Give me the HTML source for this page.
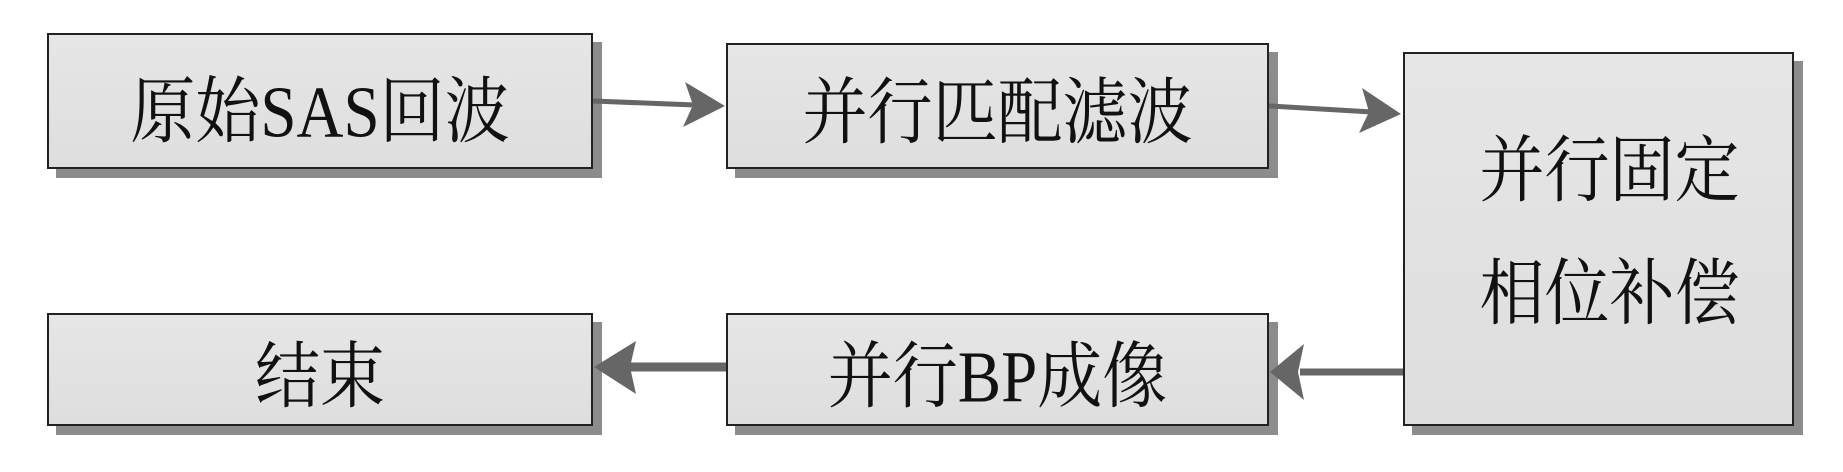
<!DOCTYPE html>
<html><head><meta charset="utf-8"><style>
body{margin:0;width:1843px;height:472px;background:#fff;position:relative;overflow:hidden;font-family:"Liberation Serif","Noto Serif CJK SC",serif;}
.b{position:absolute;box-sizing:border-box;border:2px solid #222;background:linear-gradient(#e6e6e6,#dedede);box-shadow:9px 9px 0 #8c8c8c;display:flex;align-items:center;justify-content:center;font-size:65px;color:#111;white-space:nowrap;}
.t{transform:scaleY(1.12);}
svg{position:absolute;left:0;top:0}
</style></head><body>
<div class="b" style="left:47px;top:33px;width:546px;height:136px"><div class="t" style="margin-top:8px">原始SAS回波</div></div>
<div class="b" style="left:726px;top:43px;width:543px;height:126px"><div class="t" style="margin-top:0px">并行匹配滤波</div></div>
<div class="b" style="left:1403px;top:52px;width:391px;height:374px;flex-direction:column;line-height:1;padding-left:22px;">
<div class="t" style="margin-top:-10px">并行固定</div><div class="t" style="margin-top:58px">相位补偿</div></div>
<div class="b" style="left:47px;top:313px;width:546px;height:113px"><div class="t">结束</div></div>
<div class="b" style="left:726px;top:313px;width:543px;height:113px"><div class="t">并行BP成像</div></div>
<svg width="1843" height="472">
<g stroke="#666" fill="#666">
<line x1="593" y1="101" x2="695" y2="105" stroke-width="5"/>
<line x1="1269" y1="106" x2="1372" y2="112" stroke-width="5"/>
<line x1="1403" y1="372" x2="1300" y2="372" stroke-width="7"/>
<line x1="726" y1="367" x2="620" y2="367" stroke-width="9"/>
</g>
<g fill="#666">
<polygon points="725,106 685,82 693,105 683,127"/>
<polygon points="1401,114 1362,88 1369,112 1359,133"/>
<polygon points="1270,372 1304,344 1298,372 1304,400"/>
<polygon points="594,367 636,341 630,367 636,394"/>
</g>
</svg>
</body></html>
